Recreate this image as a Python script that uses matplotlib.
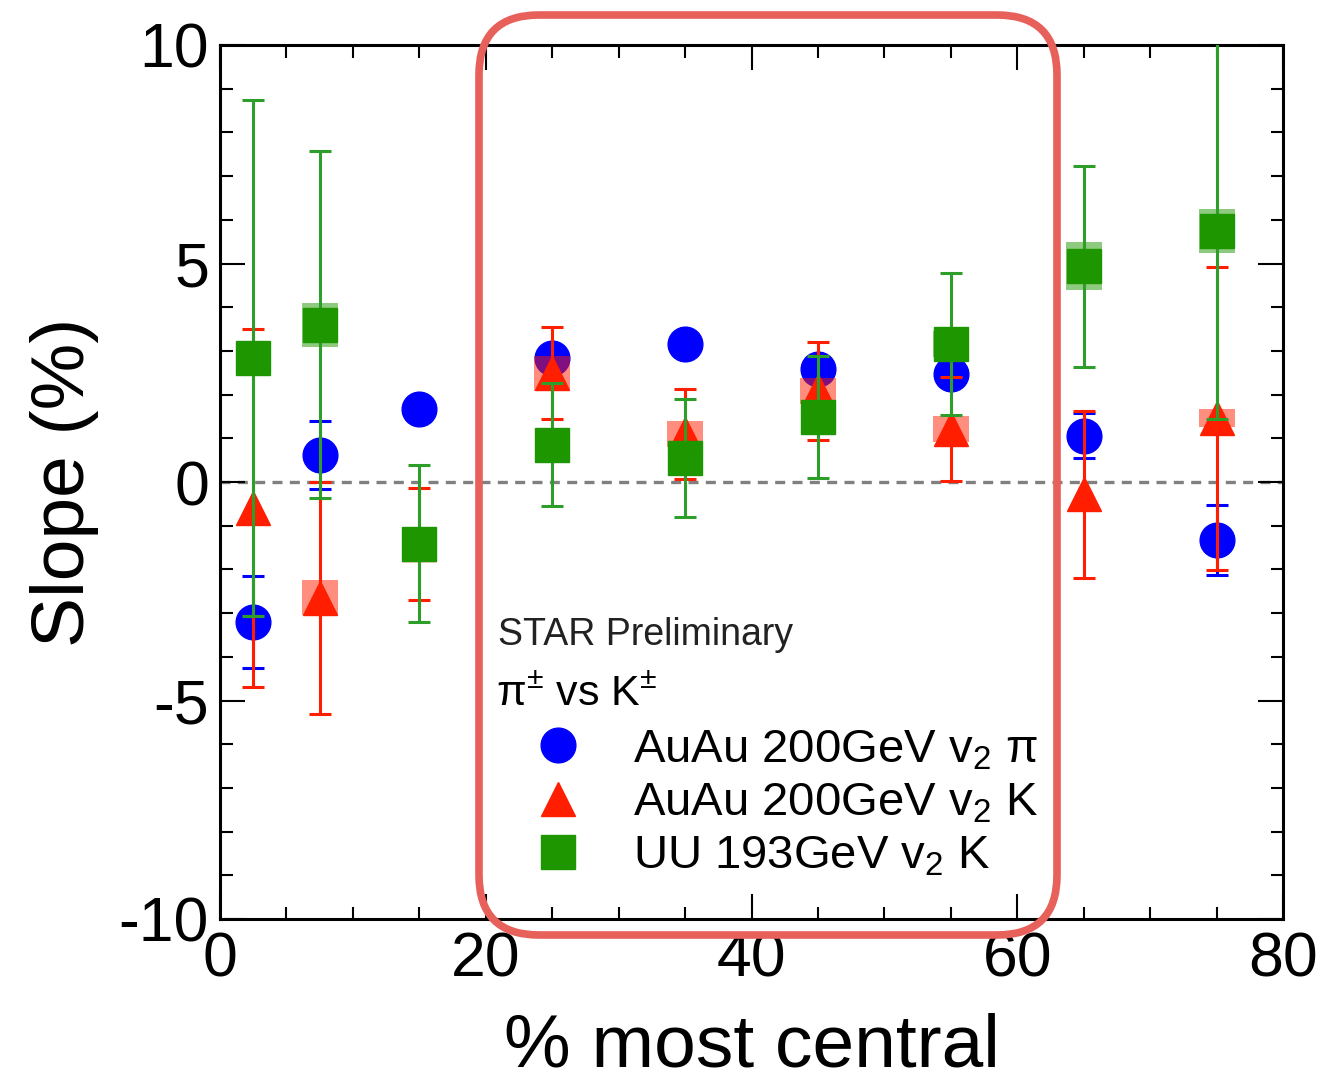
import numpy as np
import matplotlib
matplotlib.use("Agg")
import matplotlib.pyplot as plt
from matplotlib.lines import Line2D
from matplotlib.patches import FancyBboxPatch, Rectangle

plt.rcParams["font.family"] = ["Liberation Sans", "DejaVu Sans"]
plt.rcParams["mathtext.fontset"] = "custom"
plt.rcParams["mathtext.rm"] = "Liberation Sans"
plt.rcParams["mathtext.it"] = "Liberation Sans:italic"
plt.rcParams["axes.unicode_minus"] = False

# centrality bins (% most central)
cent = [2.5, 7.5, 15, 25, 35, 45, 55, 65, 75]

# AuAu 200GeV v2 pi
pi_slope = [-3.2, 0.62, 1.68, 2.83, 3.16, 2.59, 2.47, 1.06, -1.33]
pi_err = [1.06, 0.77, 0.0, 0.0, 0.0, 0.2, 0.0, 0.51, 0.8]

# AuAu 200GeV v2 K
k_slope = [-0.6, -2.65, -1.42, 2.49, 1.1, 2.09, 1.21, -0.28, 1.46]
k_err = [4.1, 2.65, 1.29, 1.05, 1.02, 1.12, 1.19, 1.91, 3.47]
k_sys = [0.0, 0.4, 0.0, 0.4, 0.3, 0.3, 0.3, 0.0, 0.2]

# UU 193GeV v2 K
uu_slope = [2.84, 3.6, -1.41, 0.85, 0.55, 1.49, 3.16, 4.94, 5.75]
uu_err = [5.9, 3.97, 1.8, 1.41, 1.36, 1.4, 1.63, 2.3, 4.3]
uu_sys = [0.0, 0.5, 0.0, 0.0, 0.0, 0.0, 0.3, 0.55, 0.5]

blue = "#0000ff"
red = "#ff1e00"
green = "#1e9600"
green_bar = "#2e9e2a"

fig = plt.figure(figsize=(13.2, 10.83), dpi=100)
ax = fig.add_axes([220 / 1320, 1 - 919 / 1083, 1063 / 1320, 874 / 1083])

ax.axhline(0, color="#808080", lw=2.4, ls=(0, (3.0, 2.2)), zorder=1)

# systematic boxes
box_w = 2.7
for x, s, y in zip(cent, k_sys, k_slope):
    if s > 0:
        ax.add_patch(Rectangle((x - box_w / 2, y - s), box_w, 2 * s,
                               color=red, alpha=0.5, lw=0, zorder=3))
for x, s, y in zip(cent, uu_sys, uu_slope):
    if s > 0:
        ax.add_patch(Rectangle((x - box_w / 2, y - s), box_w, 2 * s,
                               color=green, alpha=0.5, lw=0, zorder=5))

ms = 25
ax.errorbar(cent, pi_slope, yerr=pi_err, fmt="o", color=blue, ms=ms, mec=blue,
            elinewidth=2.2, capsize=8, capthick=2.2, zorder=2)
ax.errorbar(cent, k_slope, yerr=k_err, fmt="^", color=red, ms=ms, mec=red,
            elinewidth=2.2, capsize=8, capthick=2.2, zorder=4)
ax.errorbar(cent, uu_slope, yerr=uu_err, fmt="s", color=green, ms=ms, mec=green,
            ecolor=green_bar, elinewidth=2.2, capsize=8, capthick=2.2, zorder=6)

ax.set_xlim(0, 80)
ax.set_ylim(-10, 10)
ax.set_xticks([0, 20, 40, 60, 80])
ax.set_xticks(np.arange(0, 81, 5), minor=True)
ax.set_yticks([-10, -5, 0, 5, 10])
ax.set_yticks(np.arange(-10, 11, 1), minor=True)
ax.tick_params(which="both", direction="in", top=True, right=True, width=1.5)
ax.tick_params(which="major", length=18, labelsize=45, pad=8)
ax.tick_params(which="minor", length=9)
for sp in ax.spines.values():
    sp.set_linewidth(2.2)

ax.set_xlabel("% most central", fontsize=54, labelpad=17)
ax.set_ylabel("Slope (%)", fontsize=54, labelpad=14)

fig.text(498 / 1320, 1 - 635 / 1083, "STAR Preliminary", fontsize=27,
         va="center", ha="left", color="#222222")
fig.text(496 / 1320, 1 - 695 / 1083, r"π$^{\pm}$ vs K$^{\pm}$", fontsize=31,
         va="center", ha="left")

handles = [
    Line2D([], [], marker="o", ls="none", color=blue, ms=ms),
    Line2D([], [], marker="^", ls="none", color=red, ms=ms),
    Line2D([], [], marker="s", ls="none", color=green, ms=ms),
]
labels = [r"AuAu 200GeV v$_\mathregular{2}$ π",
          r"AuAu 200GeV v$_\mathregular{2}$ K",
          r"UU 193GeV v$_\mathregular{2}$ K"]
ax.legend(handles, labels, loc="upper left", frameon=False, fontsize=34,
          bbox_to_anchor=(5.34, (1083 - 728) / 100), bbox_transform=fig.dpi_scale_trans,
          handlelength=1.0, handletextpad=1.1, borderpad=0, borderaxespad=0,
          labelspacing=0.2)

# hand-drawn highlight box
fig.patches.append(FancyBboxPatch((4.79, 1.48), 5.78, 9.20,
                                  boxstyle="round,pad=0,rounding_size=0.6",
                                  transform=fig.dpi_scale_trans, fill=False,
                                  ec="#e8605a", lw=5.5, zorder=10))

fig.savefig("out.png", dpi=100)
